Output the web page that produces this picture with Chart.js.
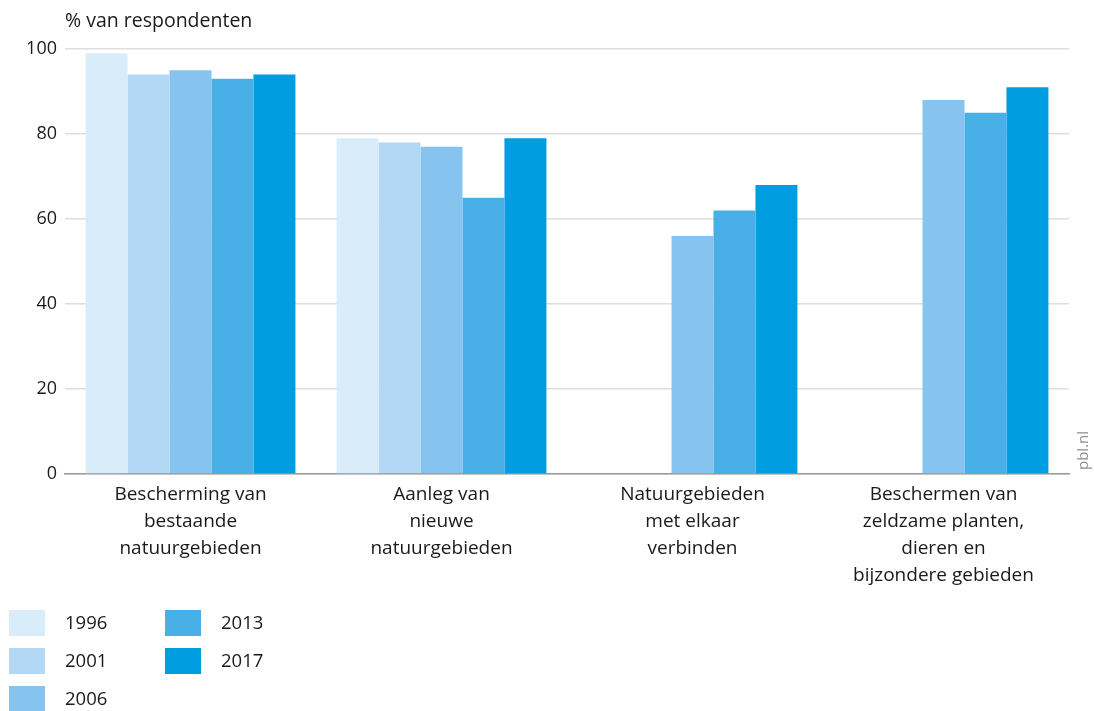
<!DOCTYPE html>
<html>
<head>
<meta charset="utf-8">
<script src="https://cdn.jsdelivr.net/npm/chart.js@4"></script>
<style>
  body { margin: 0; background: #fff; font-family: "Open Sans", sans-serif; color: #1a1a1a; }
  #wrap { position: relative; width: 1094px; height: 711px; }
  #title { position: absolute; left: 65px; top: 6px; font-size: 19.5px; }
  #source { position: absolute; left: 1072px; top: 470px; font-size: 15px; color: #8c8c8c;
            transform: rotate(-90deg); transform-origin: left top; width: 60px; }
  .leg { position: absolute; font-size: 18.5px; }
  .leg span { position: absolute; width: 36px; height: 26px; left: 0; top: 0; }
  .leg b { position: absolute; left: 56px; top: -1px; line-height: 26px; font-weight: normal; white-space: nowrap; }
</style>
</head>
<body>
<div id="wrap">
  <canvas id="barChart" width="1094" height="711"></canvas>
  <div id="title">% van respondenten</div>
  <div id="source">pbl.nl</div>
</div>
<script>
const categories = [
    ['Bescherming van', 'bestaande', 'natuurgebieden'],
    ['Aanleg van', 'nieuwe', 'natuurgebieden'],
    ['Natuurgebieden', 'met elkaar', 'verbinden'],
    ['Beschermen van', 'zeldzame planten,', 'dieren en', 'bijzondere gebieden']
];
const years = ['1996', '2001', '2006', '2013', '2017'];
const values1996 = [99, 79, null, null];
const values2001 = [94, 78, null, null];
const values2006 = [95, 77, 56, 88];
const values2013 = [93, 65, 62, 85];
const values2017 = [94, 79, 68, 91];
const yTicks = [0, 20, 40, 60, 80, 100];

const colors = ['#d9ecfa', '#b3d8f5', '#86c4ef', '#48afe7', '#009ee0'];
const series = [values1996, values2001, values2006, values2013, values2017];

const fontFamily = '"Open Sans", sans-serif';

const chart = new Chart(document.getElementById('barChart'), {
    type: 'bar',
    data: {
        labels: categories,
        datasets: series.map((vals, i) => ({
            label: years[i],
            data: vals,
            backgroundColor: colors[i],
            borderWidth: 0,
            categoryPercentage: 0.836,
            barPercentage: 1
        }))
    },
    options: {
        responsive: false,
        animation: false,
        layout: { padding: { top: 49, right: 25, left: 0, bottom: 0 } },
        plugins: {
            legend: { display: false },
            tooltip: { enabled: false }
        },
        scales: {
            x: {
                grid: { display: false, drawTicks: false },
                border: { display: true, color: '#999999', width: 1.5 },
                ticks: { color: '#1a1a1a', font: { family: fontFamily, size: 19, lineHeight: 1.42 }, padding: 7, maxRotation: 0, autoSkip: false },
                afterFit: s => { s.height = 237; }
            },
            y: {
                min: 0,
                max: 100,
                afterBuildTicks: s => { s.ticks = yTicks.map(v => ({ value: v })); },
                grid: { color: '#dedede', lineWidth: 1.5, drawTicks: false },
                border: { display: false },
                ticks: { color: '#1a1a1a', font: { family: fontFamily, size: 18 }, padding: 8 },
                afterFit: s => { s.width = 65; }
            }
        }
    }
});

// legend in two columns, built from the datasets
const wrap = document.getElementById('wrap');
chart.data.datasets.forEach((ds, i) => {
    const col = i < 3 ? 0 : 1;
    const row = i < 3 ? i : i - 3;
    const el = document.createElement('div');
    el.className = 'leg';
    el.style.left = (9 + col * 156) + 'px';
    el.style.top = (610 + row * 38) + 'px';
    el.innerHTML = '<span style="background:' + ds.backgroundColor + '"></span><b>' + ds.label + '</b>';
    wrap.appendChild(el);
});
</script>
</body>
</html>
